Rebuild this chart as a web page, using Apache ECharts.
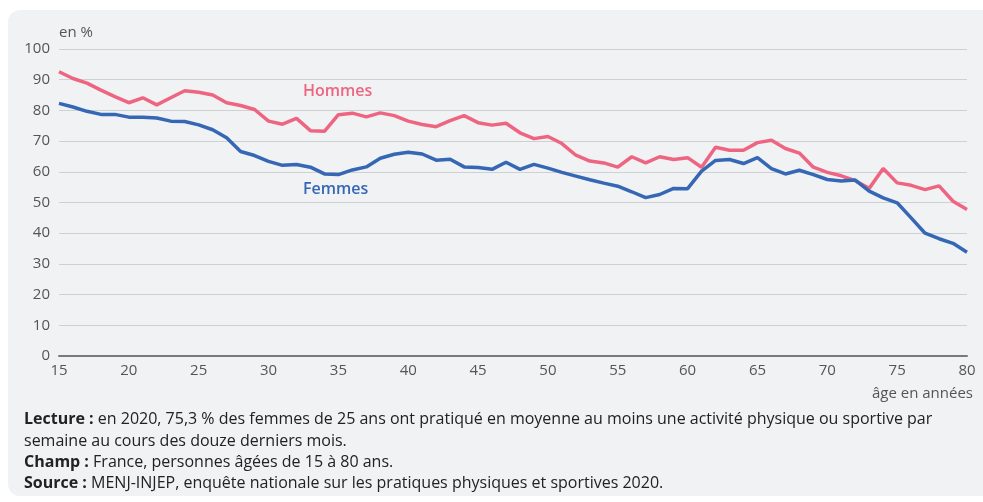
<!DOCTYPE html>
<html>
<head>
<meta charset="utf-8">
<script src="https://cdn.jsdelivr.net/npm/echarts@6/dist/echarts.min.js"></script>
<style>
  html, body { margin: 0; padding: 0; background: #fff; }
  #card {
    position: absolute; left: 8px; top: 10px; width: 985px; height: 486px;
    background: #f1f2f4; border-radius: 12px;
  }
  #chart { position: absolute; left: 0; top: 0; width: 983px; height: 502px; }
</style>
</head>
<body>
<div id="card"></div>
<div id="chart"></div>
<script>
// ages 15..80
var ages = [];
for (var a = 15; a <= 80; a++) ages.push(a);

var hommes = [
  92.6, 90.4, 88.9, 86.6, 84.5, 82.5, 84.1, 81.8, 84.1, 86.4, 85.9, 85.0,
  82.5, 81.6, 80.3, 76.5, 75.5, 77.4, 73.4, 73.2, 78.6, 79.1, 77.9, 79.2,
  78.3, 76.5, 75.4, 74.7, 76.7, 78.3, 76.0, 75.2, 75.8, 72.7, 70.8, 71.5,
  69.2, 65.4, 63.5, 62.9, 61.5, 64.9, 62.9, 64.9, 64.0, 64.6, 61.5, 68.0,
  67.0, 67.0, 69.5, 70.3, 67.6, 66.1, 61.5, 59.8, 58.7, 57.1, 54.6, 61.1,
  56.4, 55.6, 54.2, 55.4, 50.4, 47.7
];

var femmes = [
  82.3, 81.1, 79.7, 78.7, 78.7, 77.8, 77.8, 77.5, 76.5, 76.4, 75.3, 73.7,
  71.1, 66.6, 65.3, 63.4, 62.1, 62.4, 61.5, 59.3, 59.1, 60.6, 61.6, 64.4,
  65.7, 66.4, 65.8, 63.8, 64.1, 61.6, 61.4, 60.8, 63.1, 60.8, 62.4, 61.2,
  59.8, 58.6, 57.4, 56.3, 55.3, 53.5, 51.6, 52.6, 54.6, 54.5, 60.2, 63.7,
  64.0, 62.7, 64.6, 61.0, 59.3, 60.5, 59.1, 57.5, 57.0, 57.3, 53.7, 51.5,
  49.9, 45.0, 40.0, 38.2, 36.7, 33.8
];

var seriesNames = ['Hommes', 'Femmes'];
var colors = ['#ee6582', '#3567b5'];

function pairs(vals) {
  return ages.map(function (x, i) { return [x, vals[i]]; });
}

var chart = echarts.init(document.getElementById('chart'));
var font = 'Open Sans';

chart.setOption({
  backgroundColor: 'transparent',
  textStyle: { fontFamily: font },
  animation: false,
  grid: { left: 59, right: 16, top: 49, bottom: 146 },
  xAxis: {
    type: 'value', min: 15, max: 80, interval: 5,
    axisLine: { show: true, lineStyle: { color: '#7a7a7a', width: 2 } },
    axisTick: { show: false },
    splitLine: { show: false },
    axisLabel: { color: '#555', fontSize: 15, margin: 7, fontFamily: font }
  },
  yAxis: {
    type: 'value', min: 0, max: 100, interval: 10,
    axisLine: { show: false },
    axisTick: { show: false },
    splitLine: { lineStyle: { color: '#cfd0d3', width: 1 } },
    axisLabel: { color: '#555', fontSize: 15, margin: 9, fontFamily: font }
  },
  series: [
    {
      name: seriesNames[0], type: 'line', data: pairs(hommes), showSymbol: false,
      lineStyle: { color: colors[0], width: 3.5 }, z: 3
    },
    {
      name: seriesNames[1], type: 'line', data: pairs(femmes), showSymbol: false,
      lineStyle: { color: colors[1], width: 3.5 }, z: 4
    }
  ],
  graphic: [
    { type: 'text', left: 59, top: 25, style: { text: 'en %', fill: '#555', fontSize: 15, fontFamily: font } },
    { type: 'text', left: 303, top: 83, style: { text: 'Hommes', fill: colors[0], fontSize: 16, fontWeight: 600, fontFamily: font } },
    { type: 'text', left: 303, top: 181, style: { text: 'Femmes', fill: colors[1], fontSize: 16, fontWeight: 600, fontFamily: font } },
    { type: 'text', right: 10, top: 386, style: { text: 'âge en années', fill: '#555', fontSize: 15, fontFamily: font } },
    {
      type: 'text', left: 24, top: 409,
      style: {
        text: '{b|Lecture :} en 2020, 75,3 % des femmes de 25 ans ont pratiqué en moyenne au moins une activité physique ou sportive par\nsemaine au cours des douze derniers mois.\n{b|Champ :} France, personnes âgées de 15 à 80 ans.\n{b|Source :} MENJ-INJEP, enquête nationale sur les pratiques physiques et sportives 2020.',
        fill: '#222', fontSize: 16, lineHeight: 21.3, fontFamily: font,
        rich: { b: { fontWeight: 'bold', fill: '#222', fontSize: 16, fontFamily: font } }
      }
    }
  ]
});
</script>
</body>
</html>
